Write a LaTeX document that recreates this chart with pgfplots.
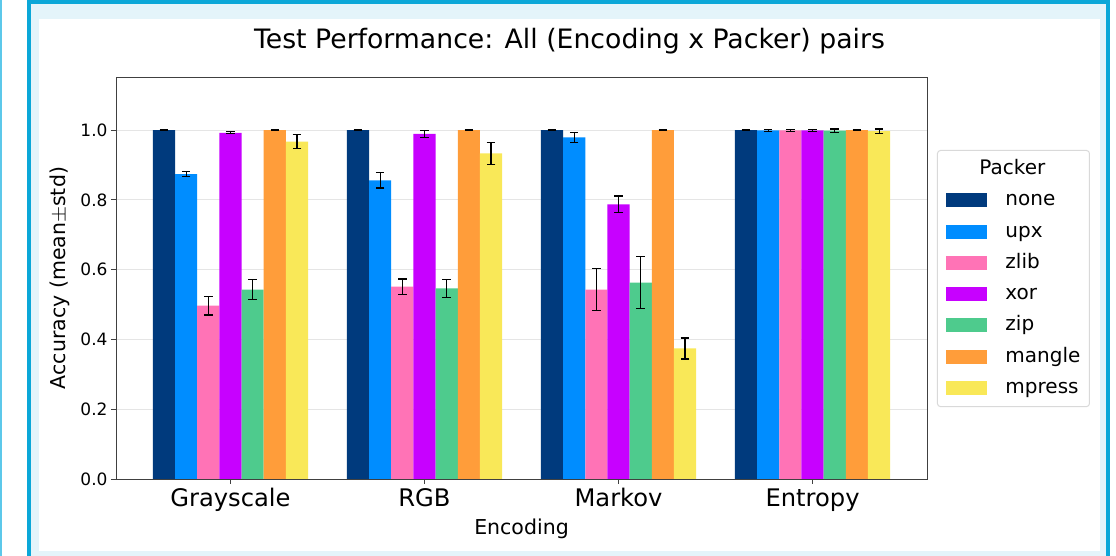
\documentclass[border=0pt]{standalone}
\usepackage{fontspec}
\setmainfont{DejaVu Sans}
\usepackage{pgfplots}
\usepackage{pgfplotstable}
\pgfplotsset{compat=1.18}
\definecolor{cnone}{HTML}{003A7D}
\definecolor{cupx}{HTML}{008DFF}
\definecolor{czlib}{HTML}{FF73B6}
\definecolor{cxor}{HTML}{C701FF}
\definecolor{czip}{HTML}{4ECB8D}
\definecolor{cmangle}{HTML}{FF9D3A}
\definecolor{cmpress}{HTML}{F9E858}
\definecolor{framecyan}{HTML}{0BA7D8}
\definecolor{framelight}{HTML}{E4F4FA}
\definecolor{edgecyan}{HTML}{5CC8EA}

\pgfplotstableread{
x none noneE upx upxE zlib zlibE xor xorE zip zipE mangle mangleE mpress mpressE
0 1.000 0.001 0.874 0.008 0.497 0.027 0.992 0.003 0.543 0.029 1.000 0.001 0.967 0.020
1 1.000 0.001 0.856 0.022 0.551 0.022 0.989 0.010 0.546 0.026 1.000 0.001 0.933 0.031
2 1.000 0.001 0.979 0.014 0.543 0.059 0.787 0.024 0.563 0.074 1.000 0.001 0.374 0.030
3 1.000 0.001 0.999 0.003 0.999 0.003 0.999 0.002 0.998 0.005 1.000 0.001 0.997 0.006
}\datatable

\begin{document}
\begin{tikzpicture}
\useasboundingbox (0,0) rectangle (1116bp,556bp);
\fill[white] (0,0) rectangle (1116bp,556bp);
\fill[edgecyan] (0,0) rectangle (1.5bp,556bp);
\fill[framecyan] (27bp,-10bp) rectangle (1110bp,556bp);
\fill[framelight] (31bp,-10bp) rectangle (1106bp,552bp);
\fill[white] (39bp,5bp) rectangle (1100bp,537bp);
\node[font=\fontsize{26.7bp}{30bp}\selectfont, anchor=base, inner sep=0pt] at (569.5bp,507bp) {Test Performance: All (Encoding x Packer) pairs};
\begin{axis}[
  at={(116bp,77bp)}, anchor=south west,
  scale only axis, width=811bp, height=402bp,
  xmin=-0.59, xmax=3.59, ymin=0, ymax=1.152,
  xtick={0,1,2,3}, xticklabels={Grayscale,RGB,Markov,Entropy},
  ytick={0,0.2,0.4,0.6,0.8,1.0},
  yticklabel style={/pgf/number format/fixed, /pgf/number format/fixed zerofill, /pgf/number format/precision=1},
  /pgf/number format/assume math mode=true,
  xtick pos=bottom, ytick pos=left,
  tick align=outside, major tick length=5bp,
  tick style={draw=black!75, line width=0.8bp},
  axis line style={draw=black!75, line width=0.8bp},
  ymajorgrids, grid style={draw=black!10, line width=0.8bp},
  y tick label style={font=\fontsize{17bp}{20bp}\selectfont},
  x tick label style={font=\fontsize{24.2bp}{28bp}\selectfont, anchor=base, yshift=-23bp},
  xlabel={Encoding}, ylabel={Accuracy (mean$\pm$std)},
  every axis x label/.style={at={(axis description cs:0.5,-0.1393)}, anchor=base, font=\fontsize{20.5bp}{24bp}\selectfont},
  every axis y label/.style={at={(axis description cs:-0.069,0.5)}, anchor=center, rotate=90, font=\fontsize{20.5bp}{24bp}\selectfont},
  ybar, bar width=0.1142857,
  error bars/y dir=both, error bars/y explicit,
  error bars/error bar style={line width=1.1bp, black},
  error bars/error mark options={rotate=90, mark size=4.3bp, line width=1.1bp, black},
  legend cell align=left,
  legend image code/.code={\fill[#1, sharp corners] (0bp,-7bp) rectangle (41bp,7bp);},
  legend style={at={(axis description cs:1.0123,0.8184)}, anchor=north west,
    draw=black!15, line width=1bp, rounded corners=3bp, fill=white, inner sep=9bp,
    font=\fontsize{20bp}{24bp}\selectfont,
    nodes={inner sep=0bp, text height=15bp, text depth=4bp},
    row sep=12.3bp, column sep=18bp},
]
\addlegendimage{empty legend}
\addlegendentry{\hspace*{-26bp}Packer}
\addplot[fill=cnone, draw=none, bar shift=-0.3428571] table[x=x, y=none, y error=noneE] {\datatable};
\addlegendentry{none}
\addplot[fill=cupx, draw=none, bar shift=-0.2285714] table[x=x, y=upx, y error=upxE] {\datatable};
\addlegendentry{upx}
\addplot[fill=czlib, draw=none, bar shift=-0.1142857] table[x=x, y=zlib, y error=zlibE] {\datatable};
\addlegendentry{zlib}
\addplot[fill=cxor, draw=none, bar shift=0] table[x=x, y=xor, y error=xorE] {\datatable};
\addlegendentry{xor}
\addplot[fill=czip, draw=none, bar shift=0.1142857] table[x=x, y=zip, y error=zipE] {\datatable};
\addlegendentry{zip}
\addplot[fill=cmangle, draw=none, bar shift=0.2285714] table[x=x, y=mangle, y error=mangleE] {\datatable};
\addlegendentry{mangle}
\addplot[fill=cmpress, draw=none, bar shift=0.3428571] table[x=x, y=mpress, y error=mpressE] {\datatable};
\addlegendentry{mpress}
\end{axis}
\end{tikzpicture}
\end{document}
